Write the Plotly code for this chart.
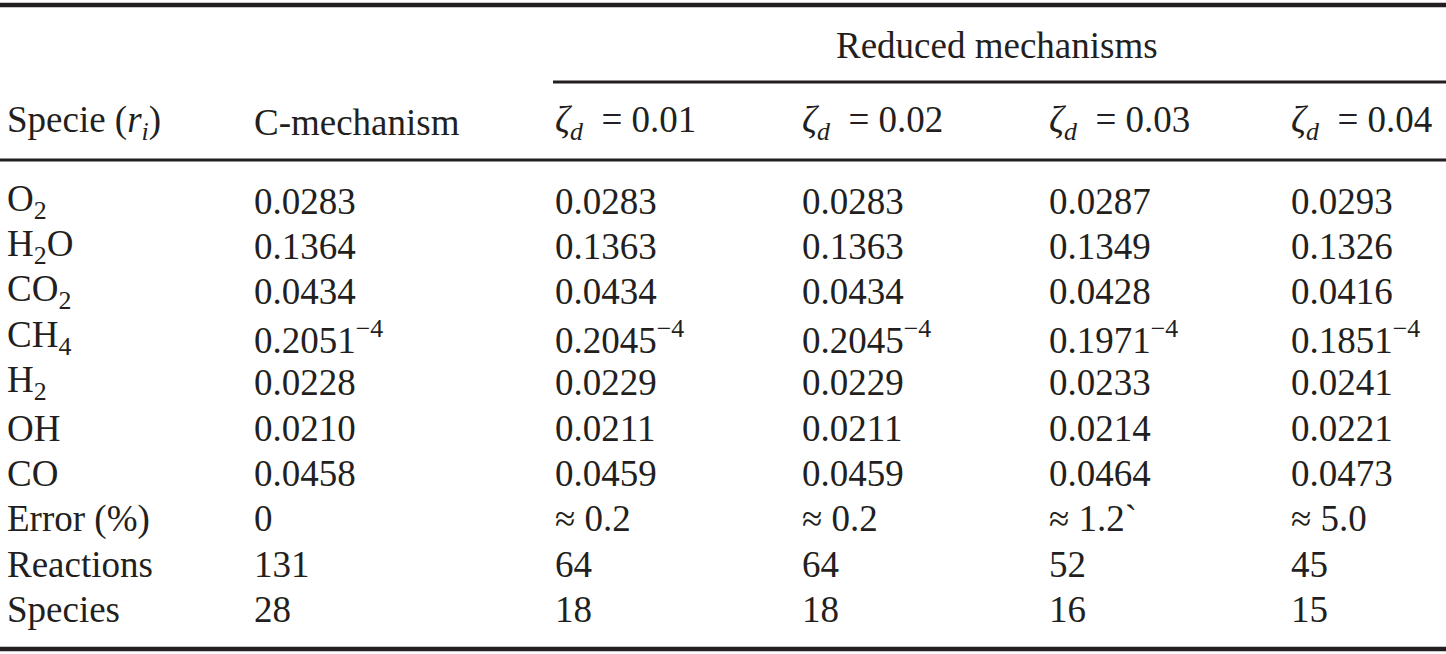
import plotly.graph_objects as go

# ---- data ----
species_labels = ["O<sub>2</sub>", "H<sub>2</sub>O", "CO<sub>2</sub>", "CH<sub>4</sub>",
                  "H<sub>2</sub>", "OH", "CO"]
zeta_values = ["0.01", "0.02", "0.03", "0.04"]
column_headers = ["Specie (<i>r</i><sub><i>i</i></sub>)", "C-mechanism"] + \
                 [f"<i>ζ</i><sub><i>d</i></sub>\u2002= {z}" for z in zeta_values]
group_header = "Reduced mechanisms"
c_mechanism = [0.0283, 0.1364, 0.0434, 0.2051, 0.0228, 0.0210, 0.0458]
zeta_001 = [0.0283, 0.1363, 0.0434, 0.2045, 0.0229, 0.0211, 0.0459]
zeta_002 = [0.0283, 0.1363, 0.0434, 0.2045, 0.0229, 0.0211, 0.0459]
zeta_003 = [0.0287, 0.1349, 0.0428, 0.1971, 0.0233, 0.0214, 0.0464]
zeta_004 = [0.0293, 0.1326, 0.0416, 0.1851, 0.0241, 0.0221, 0.0473]
exponent_row = "CH<sub>4</sub>"
exponent = "−4"
error_pct = ["0", "≈ 0.2", "≈ 0.2", "≈ 1.2`", "≈ 5.0"]
reactions = [131, 64, 64, 52, 45]
species_count = [28, 18, 18, 16, 15]
summary_labels = ["Error (%)", "Reactions", "Species"]

# ---- layout geometry ----
W, H = 1446, 654
col_x = [5, 252, 553, 800, 1047, 1289]
row_y0 = 201
row_dy = 45.4
header_y = 122
group_y = 45
FONT = dict(family="Liberation Serif, Times New Roman, serif", size=37, color="#231f20")

fig = go.Figure()
fig.add_trace(go.Scatter(x=[0, W], y=[0, H], mode="markers",
                         marker=dict(opacity=0), hoverinfo="skip", showlegend=False))

def cell(x, y, text):
    fig.add_annotation(x=x, y=y, xref="x", yref="y", text=text, showarrow=False,
                       xanchor="left", yanchor="middle", font=FONT)

# headers
fig.add_annotation(x=997, y=group_y, xref="x", yref="y", text=group_header,
                   showarrow=False, xanchor="center", yanchor="middle", font=FONT)
for j, h in enumerate(column_headers):
    cell(col_x[j], header_y, h)

# species rows
cols = [c_mechanism, zeta_001, zeta_002, zeta_003, zeta_004]
for i, lab in enumerate(species_labels):
    y = row_y0 + i * row_dy
    cell(col_x[0], y, lab)
    for j, col in enumerate(cols):
        t = f"{col[i]:.4f}"
        if lab == exponent_row:
            t += f"<sup>{exponent}</sup>"
        cell(col_x[j + 1], y, t)

# summary rows
summary = [error_pct, [str(v) for v in reactions], [str(v) for v in species_count]]
for k, lab in enumerate(summary_labels):
    y = row_y0 + (len(species_labels) + k) * row_dy
    cell(col_x[0], y, lab)
    for j, v in enumerate(summary[k]):
        cell(col_x[j + 1], y, v)

# rules
LC = "#231f20"
fig.add_shape(type="line", x0=0, x1=W, y0=5, y1=5, xref="x", yref="y", line=dict(color=LC, width=4.5))
fig.add_shape(type="line", x0=553, x1=W, y0=82, y1=82, xref="x", yref="y", line=dict(color=LC, width=3))
fig.add_shape(type="line", x0=0, x1=W, y0=160, y1=160, xref="x", yref="y", line=dict(color=LC, width=3))
fig.add_shape(type="line", x0=0, x1=W, y0=649, y1=649, xref="x", yref="y", line=dict(color=LC, width=4.5))

fig.update_xaxes(range=[0, W], visible=False, fixedrange=True)
fig.update_yaxes(range=[H, 0], visible=False, fixedrange=True)
fig.update_layout(width=W, height=H, margin=dict(l=0, r=0, t=0, b=0),
                  paper_bgcolor="white", plot_bgcolor="white", showlegend=False)

fig.write_html("out.html", config={"displayModeBar": False},
               post_script="document.body.style.margin='0';document.body.style.padding='0';"
                           "document.body.style.overflow='hidden';")
